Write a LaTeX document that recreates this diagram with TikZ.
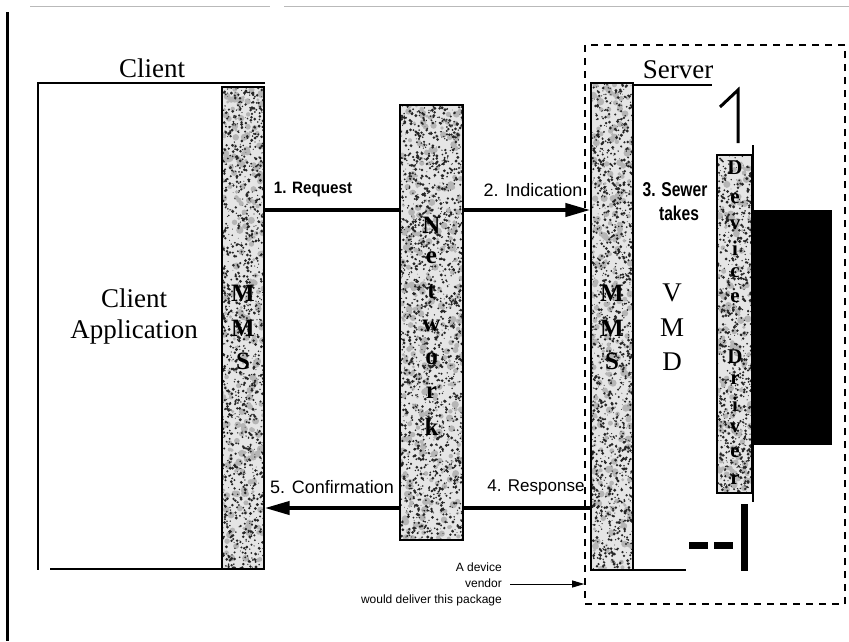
\documentclass[tikz,border=0pt]{standalone}
\usepackage{fontspec}
\setmainfont{Liberation Serif}
\newfontfamily\labfont{Liberation Sans}
\newfontfamily\condfont[FakeStretch=0.78]{Liberation Sans}
\newfontfamily\reqfont[FakeStretch=0.92]{Liberation Sans}
\usetikzlibrary{arrows.meta,fit}

\newcommand\fsz[1]{\fontsize{#1}{#1}\selectfont}

% a mottled, stippled vertical bar: name, x1, y1, x2, y2
\newcommand\speckbar[5]{%
  \fill[gray!20] (#2,#3) rectangle (#4,#5);
  \begin{scope}
    \clip (#2,#3) rectangle (#4,#5);
    % soft grey clumps
    \pgfmathtruncatemacro\nblob{abs((#4-#2)/80*(#5-#3))}%
    \fill[gray!58] \foreach \k in {1,...,\nblob}{
      ({#2+(#4-#2)*rnd},{#3+(#5-#3)*rnd}) circle[radius={1.5+2.2*rnd}]};
    % dark specks
    \pgfmathtruncatemacro\nspk{abs((#4-#2)/15*(#5-#3))}%
    \fill[black!85] \foreach \k in {1,...,\nspk}{
      ({#2+(#4-#2)*rnd},{#3+(#5-#3)*rnd}) circle[radius={0.35+1.3*rnd}]};
  \end{scope}
  \node[draw, line width=1.2pt, inner sep=0pt, fit={(#2,#3)(#4,#5)}] (#1) {};
}

\begin{document}
\begin{tikzpicture}[x=1pt,y=-1pt,
  boxline/.style={line width=2.4pt},
  flow/.style={line width=4pt},
  flowtip/.style={flow,-{Triangle[length=25pt,width=13pt]}},
  titletext/.style={font=\fsz{27}, inner sep=0pt},
  barltr/.style={font=\bfseries\fsz{#1}, inner sep=0pt},
  lbl/.style={font=\labfont\fsz{18}, inner sep=0pt},
]
\pgfmathsetseed{4242}
\useasboundingbox (0,0) rectangle (849,641);
\fill[white] (0,0) rectangle (849,641);

% page rules
\draw[gray!55, line width=1pt] (30,6) -- (270,6) (284,6) -- (849,6);
\draw[line width=3pt] (7,12) -- (7,641);

% ---------------- client side ----------------
\draw[boxline] (265,83) -- (38,83) -- (38,570);
\draw[boxline] (50,569) -- (222,569);
\node[titletext] (clienttitle) at (152,68) {Client};
\node[font=\fontsize{27}{31}\selectfont, align=center, inner sep=0pt] (clientapp) at (134,316) {Client\\Application};

\speckbar{cmms}{222}{87}{264}{569}
\foreach \ch/\yy [count=\i] in {M/293,M/328,S/361}
  \node[barltr=25] (cmms-\i) at (243,\yy) {\ch};

% ---------------- network ----------------
\speckbar{net}{400}{105}{463}{540}
\foreach \ch/\yy [count=\i] in {N/225,e/258,t/292,w/326,o/359,r/393,k/427}
  \node[barltr=25] (net-\i) at (431.5,\yy) {\ch};

% ---------------- server side ----------------
\node[draw, dash pattern=on 7pt off 6pt, line width=1.6pt, inner sep=0pt,
      fit={(585,45)(845,604)}] (server) {};
\node[titletext] (servertitle) at (678,70) {Server};

\speckbar{smms}{591}{83}{633}{570}
\foreach \ch/\yy [count=\i] in {M/293,M/328,S/361}
  \node[barltr=25] (smms-\i) at (612,\yy) {\ch};
\draw[boxline] (633,85) -- (712,85);
\draw[boxline] (633,570) -- (686,570);

\foreach \ch/\yy [count=\i] in {V/293,M/328,D/362}
  \node[font=\fsz{27}, inner sep=0pt] (vmd-\i) at (672,\yy) {\ch};

% stroke above the driver
\draw[line width=3pt] (720,107) -- (738,90) -- (738,143);

% device driver
\speckbar{drv}{717}{155}{752}{493}
\foreach \ch/\yy [count=\i] in {D/168,e/199,v/225,i/248,c/273,e/298,D/357,r/380,i/404,v/428,e/453,r/480}
  \node[barltr=21] (drv-\i) at (735,\yy) {\ch};
\draw[line width=2pt] (753,145) -- (753,502);
\fill (753,210) rectangle (832,445);

% broken outline at the bottom right
\fill (689,542) rectangle (708,549);
\fill (714,542) rectangle (733,549);
\fill (741,504) rectangle (748,571);

% ---------------- messages ----------------
\coordinate (rowA) at (0,210);
\coordinate (rowB) at (0,508);
\draw[flow] (cmms.east |- rowA) -- (net.west |- rowA);
\draw[flowtip] (net.east |- rowA) -- (smms.west |- rowA);
\draw[flow] (smms.west |- rowB) -- (net.east |- rowB);
\draw[flowtip] (net.west |- rowB) -- (cmms.east |- rowB);

\node[font=\reqfont\bfseries\fsz{16.5}, inner sep=0pt] (req) at (313,190) {1. Request};
\node[lbl] (ind) at (533,190) {2. Indication};
\node[font=\condfont\bfseries\fsz{20}, inner sep=0pt] (sewer) at (675,190) {3. Sewer};
\node[font=\condfont\bfseries\fsz{20}, inner sep=0pt] (takes) at (679,213) {takes};
\node[lbl] (conf) at (332,487) {5. Confirmation};
\node[font=\labfont\fsz{17}, inner sep=0pt] (resp) at (536,487) {4. Response};

% vendor note
\node[font=\labfont\fontsize{12}{16}\selectfont, align=right, inner sep=0pt, anchor=east]
  (vendtxt) at (502,584) {A device\\vendor\\would deliver this package};
\draw[line width=0.9pt, -{Triangle[length=12pt,width=7pt]}]
  ([xshift=8pt]vendtxt.east) -- (server.west |- vendtxt.east);
\end{tikzpicture}
\end{document}
